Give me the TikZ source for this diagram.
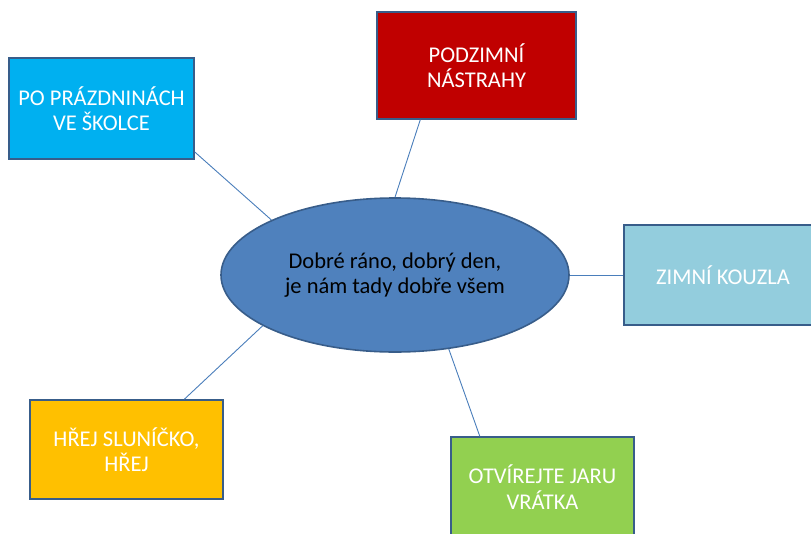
\documentclass[tikz,border=0pt]{standalone}
\usepackage{fontspec}
\setmainfont{Carlito}
\usetikzlibrary{shapes.geometric}
\definecolor{mainfill}{HTML}{4F81BD}
\definecolor{mainline}{HTML}{385D8A}
\definecolor{linkline}{HTML}{4A7EBB}
\definecolor{summer}{HTML}{00B0F0}
\definecolor{autumn}{HTML}{C00000}
\definecolor{winter}{HTML}{93CDDD}
\definecolor{sunny}{HTML}{FFC000}
\definecolor{spring}{HTML}{92D050}
\begin{document}
\begin{tikzpicture}[x=1pt,y=-1pt,
    font=\fontsize{22.5}{25.5}\selectfont,
    topic/.style={draw=mainline,line width=1.6pt,text=white,align=center,inner sep=0pt},
    hub/.style={ellipse,draw=mainline,line width=1.6pt,fill=mainfill,align=center,
      minimum width=348pt,minimum height=154pt,inner sep=0pt},
    link/.style={draw=linkline,line width=0.9pt}]
        \useasboundingbox (0,0) rectangle (811,533);
        \node[hub] (day) at (395,275) {Dobré ráno, dobrý den,\\je nám tady dobře všem};
        \node[topic,fill=summer,minimum width=185pt,minimum height=101pt] (school) at (101.5,108.5) {PO PRÁZDNINÁCH\\VE ŠKOLCE};
        \node[topic,fill=autumn,minimum width=199pt,minimum height=107pt] (autumn) at (476.5,65.5) {PODZIMNÍ\\NÁSTRAHY};
        \node[topic,fill=winter,minimum width=198pt,minimum height=100pt] (winter) at (723,275) {ZIMNÍ KOUZLA};
        \node[topic,fill=sunny,minimum width=193pt,minimum height=99pt] (sun) at (126.5,449.5) {HŘEJ SLUNÍČKO,\\HŘEJ};
        \node[topic,fill=spring,minimum width=183pt,minimum height=100pt] (spring) at (542.5,487) {OTVÍREJTE JARU\\VRÁTKA};
        \draw[link] (school.-25.7) -- (day.156);
        \draw[link] (autumn.-136.6) -- (day.90);
        \draw[link] (winter.west) -- (day.east);
        \draw[link] (sun.41.7) -- (day.201.5);
        \draw[link] (spring.141.8) -- (day.-54);
\end{tikzpicture}
\end{document}
